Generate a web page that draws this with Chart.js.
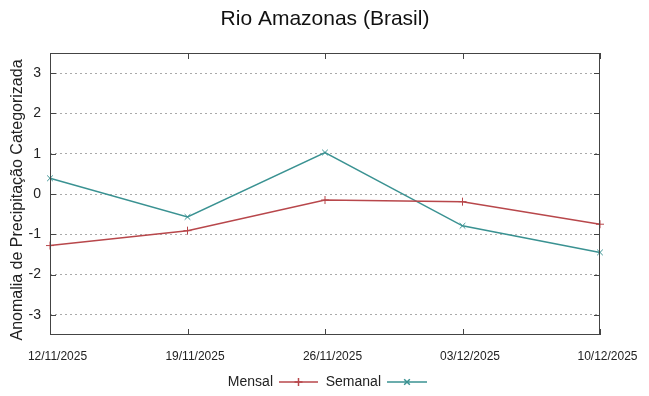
<!DOCTYPE html>
<html><head><meta charset="utf-8">
<script src="https://cdn.jsdelivr.net/npm/chart.js@4/dist/chart.umd.min.js"></script>
<style>html,body{margin:0;padding:0;background:#fff}#wrap{width:649px;height:396px}</style>
</head><body><div id="wrap"><canvas id="c" width="649" height="396"></canvas></div>
<script>
const categories = ['12/11/2025','19/11/2025','26/11/2025','03/12/2025','10/12/2025'];
const mensal = [-1.28, -0.91, -0.15, -0.19, -0.75];
const semanal = [0.39, -0.57, 1.03, -0.79, -1.45];
const yTicks = [-3,-2,-1,0,1,2,3];
const titleText = 'Rio Amazonas (Brasil)';
const yTitleText = 'Anomalia de Precipitação Categorizada';

const cM = '#b8474b', cS = '#3a9292';

const frame = {
  id:'frame',
  afterDatasetsDraw(chart){
    const {ctx, chartArea:a, scales:{x,y}} = chart;
    ctx.save();
    ctx.strokeStyle = '#444'; ctx.lineWidth = 1;
    ctx.strokeRect(a.left+0.5, a.top+0.5, a.right-a.left-1, a.bottom-a.top-1);
    const L = 6;
    ctx.beginPath();
    categories.forEach((c,i)=>{ const px=Math.round(x.getPixelForValue(i))+0.5;
      ctx.moveTo(px,a.bottom); ctx.lineTo(px,a.bottom-L);
      ctx.moveTo(px,a.top); ctx.lineTo(px,a.top+L); });
    yTicks.forEach(v=>{ const py=Math.round(y.getPixelForValue(v))+0.5;
      ctx.moveTo(a.left,py); ctx.lineTo(a.left+L,py);
      ctx.moveTo(a.right,py); ctx.lineTo(a.right-L,py); });
    ctx.stroke();
    // x tick labels (shifted right of the tick, as in the reference)
    ctx.font = '12px "Liberation Sans", Arial, sans-serif';
    ctx.fillStyle = '#222'; ctx.textAlign='center'; ctx.textBaseline='middle';
    categories.forEach((c,i)=>{
      ctx.fillText(c, x.getPixelForValue(i) + 7.5, 357);
    });
    ctx.restore();
  },
  afterDraw(chart){
    const ctx = chart.ctx, a = chart.chartArea;
    ctx.save();
    // title
    ctx.font = '21px "Liberation Sans", Arial, sans-serif';
    ctx.fillStyle = '#111'; ctx.textAlign='center'; ctx.textBaseline='middle';
    ctx.fillText(titleText, (a.left+a.right)/2, 19);
    // y axis title
    ctx.font = '16px "Liberation Sans", Arial, sans-serif';
    ctx.fillStyle = '#222';
    ctx.save(); ctx.translate(18, 200); ctx.rotate(-Math.PI/2); ctx.fillText(yTitleText,0,0); ctx.restore();
    // legend
    ctx.font = '14px "Liberation Sans", Arial, sans-serif';
    ctx.fillStyle = '#222'; ctx.textBaseline='middle';
    const yy = 382;
    const items = [{t:'Mensal', c:cM, s:'cross', tx:273, l0:279, l1:318},
                   {t:'Semanal', c:cS, s:'crossRot', tx:381, l0:387, l1:427}];
    items.forEach(it=>{
      ctx.textAlign='right'; ctx.fillText(it.t, it.tx, yy);
      ctx.strokeStyle=it.c; ctx.lineWidth=1.5;
      ctx.beginPath(); ctx.moveTo(it.l0,yy); ctx.lineTo(it.l1,yy); ctx.stroke();
      Chart.helpers.drawPoint(ctx,{pointStyle:it.s, radius:4, borderWidth:1}, (it.l0+it.l1)/2, yy);
    });
    ctx.restore();
  }
};

new Chart(document.getElementById('c'), {
  type:'line',
  data:{ labels:categories, datasets:[
    {label:'Mensal', data:mensal, borderColor:cM, backgroundColor:cM, borderWidth:1.5,
     pointStyle:'cross', pointRadius:4, pointBorderWidth:1, tension:0, clip:false},
    {label:'Semanal', data:semanal, borderColor:cS, backgroundColor:cS, borderWidth:1.5,
     pointStyle:'crossRot', pointRadius:4, pointBorderWidth:1, tension:0, clip:false}
  ]},
  options:{
    responsive:false, animation:false, devicePixelRatio:1,
    layout:{padding:{left:0,right:49,top:53,bottom:30}},
    plugins:{ legend:{display:false}, tooltip:{enabled:false}, title:{display:false} },
    scales:{
      x:{type:'category', offset:false,
        grid:{display:false, drawTicks:false},
        border:{display:false},
        ticks:{display:false},
        afterFit(s){ s.height = 31; }
      },
      y:{min:-3.5, max:3.5,
        afterBuildTicks(s){ s.ticks = yTicks.map(v=>({value:v})); },
        grid:{color:'#aaa', lineWidth:1, drawTicks:false},
        border:{display:false, dash:[2,3]},
        ticks:{color:'#222', padding:9,
          font:{family:'"Liberation Sans", Arial, sans-serif', size:14}},
        afterFit(s){ s.width = 50; }
      }
    }
  },
  plugins:[frame]
});
</script></body></html>
